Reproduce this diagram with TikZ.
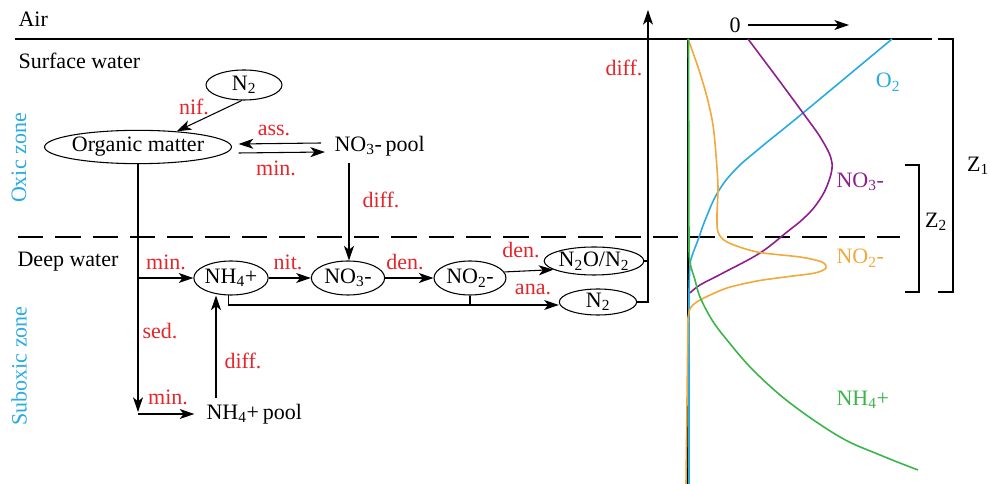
\documentclass[tikz,border=0pt]{standalone}
\usepackage{fontspec}
\setmainfont{Liberation Serif}
\usetikzlibrary{arrows.meta,shapes.geometric,calc}
\definecolor{lblred}{HTML}{E5252A}
\definecolor{zonecyan}{HTML}{29ABE2}
\definecolor{cpurple}{HTML}{8E1F8E}
\definecolor{corange}{HTML}{F2A93B}
\definecolor{cgreen}{HTML}{3AB54A}
\begin{document}
\begin{tikzpicture}[x=0.75pt,y=-0.75pt,
  every node/.style={font=\fontsize{16.5}{19}\selectfont, inner sep=1pt},
  arr/.style={-{Stealth[length=11pt,width=7.5pt,inset=3pt]}, line width=0.8pt},
  ln/.style={line width=0.8pt},
  ell/.style={ellipse, draw, line width=0.8pt, inner sep=0pt},
  rlab/.style={text=lblred},
  zone/.style={text=zonecyan, rotate=90},
  curve/.style={line width=1.2pt}
]
\useasboundingbox (0,0) rectangle (990,484);

% layers
\draw[line width=1.5pt] (15,39) -- (932,39);
\draw[line width=0.8pt, dash pattern=on 19pt off 9pt] (18,237) -- (900,237);
\node[anchor=west] (air) at (17,19) {Air};
\node[anchor=west] (surf) at (17,61) {Surface water};
\node[anchor=west] (deep) at (16,262) {Deep water};
\node[zone] (oxic) at (19,158) {Oxic zone};
\node[zone] (suboxic) at (19,366) {Suboxic zone};

% nodes
\node[ell, minimum width=57pt, minimum height=22.5pt] (n2top) at (244,85) {N\textsubscript{2}};
\node[ell, minimum width=121pt, minimum height=25pt] (om) at (138,147) {Organic matter};
\node[anchor=west] (no3pool) at (333,146) {NO\textsubscript{3}-\,pool};
\node[ell, minimum width=53pt, minimum height=25.5pt] (nh4) at (231,278) {NH\textsubscript{4}+};
\node[ell, minimum width=55pt, minimum height=25.5pt] (no3) at (348,278) {NO\textsubscript{3}-};
\node[ell, minimum width=54pt, minimum height=25.5pt] (no2) at (470,278) {NO\textsubscript{2}-};
\node[ell, minimum width=63pt, minimum height=21pt] (n2o) at (594,261) {N\textsubscript{2}O/N\textsubscript{2}};
\node[ell, minimum width=58pt, minimum height=19.5pt] (n2b) at (598,302) {N\textsubscript{2}};
\node[anchor=west] (nh4pool) at (205,414) {NH\textsubscript{4}+\,pool};

% connectors
\draw[arr] (n2top.262) -- (om.22);
\node[rlab] (lnif) at (194,107) {nif.};
\draw[arr] ([xshift=-9pt,yshift=2.25pt]no3pool.west) -- ([xshift=5pt,yshift=2.25pt]om.east);
\node[rlab] (lass) at (274,130) {ass.};
\draw[arr] ([xshift=5pt,yshift=-4.5pt]om.east) -- ([xshift=-6pt,yshift=-4.5pt]no3pool.west);
\node[rlab] (lmin1) at (276,168) {min.};
\coordinate (poolDrop) at (349,163);
\draw[arr] (poolDrop) -- (poolDrop |- no3.north);
\node[rlab] (ldiff1) at (381,200) {diff.};

\coordinate (corner) at (138,414);
\draw[arr] (om.south) -- ([yshift=1.5pt]corner);
\draw[arr] (corner) -- ([xshift=-8pt]corner -| nh4pool.west);
\node[rlab] (lsed) at (160,331) {sed.};
\node[rlab] (lmin3) at (168,397) {min.};
\coordinate (poolUp) at (216,398);
\draw[arr] (poolUp) -- (poolUp |- nh4.south);
\node[rlab] (ldiff2) at (243,361) {diff.};

\draw[arr] (om.south |- nh4.west) -- (nh4.west);
\node[rlab] (lmin2) at (166,262) {min.};
\draw[arr] (nh4.east) -- (no3.west);
\node[rlab] (lnit) at (288,262) {nit.};
\draw[arr] (no3.east) -- (no2.west);
\node[rlab] (lden1) at (405,262) {den.};
\draw[arr] (no2.10) -- (n2o.192);
\node[rlab] (lden2) at (521,250) {den.};

\draw[arr] (nh4.262) |- ([yshift=-2.25pt]n2b.west);
\draw[ln] (no2.south) -- (no2.south |- 0,305);
\node[rlab] (lana) at (533,289) {ana.};

\coordinate (riseTop) at (648,10);
\draw[arr] (n2b.east) -| (riseTop);
\draw[ln] (n2o.east) -- (n2o.east -| riseTop);
\node[rlab] (ldiff3) at (624,68) {diff.};

% profile plot
\draw[line width=0.8pt] (688,39) -- (688,484);
\node (zero) at (735,25) {0};
\coordinate (axEnd) at (849,25);
\draw[arr] (748,25) -- (axEnd);

\draw[curve, zonecyan] plot[smooth, tension=0.7] coordinates {(892,39) (803,113) (760,148) (735,170) (718,192) (706,218) (698,240) (692,256) (690,266) (689,290)} -- (689,484);
\draw[curve, cpurple] plot[smooth, tension=0.6] coordinates {(748,39) (775,75) (803,113) (822,140) (832,163) (827,186) (816,205) (803,219) (787,232) (760,253) (723,273) (700,285) (690,293)};
\draw[curve, corange] plot[smooth, tension=0.5] coordinates {(688,39) (698,67) (707,97) (713,125) (716,155) (718,187) (717,215) (718,232) (727,242) (757,252) (800,257) (822,262) (826,268) (815,273) (785,277) (757,281) (727,288) (702,299) (691,307) (688,318)} -- (686,484);
\draw[curve, cgreen] (688.5,39) -- (689,250) plot[smooth, tension=0.6] coordinates {(689,250) (690,263) (695,280) (700,297) (712,320) (727,340) (753,370) (790,403) (840,437) (880,455) (918,470)};

\node[text=zonecyan] (lo2) at (888,82) {O\textsubscript{2}};
\node[text=cpurple, anchor=west] (lno3) at (835,182) {NO\textsubscript{3}-};
\node[text=corange, anchor=west] (lno2) at (835,258) {NO\textsubscript{2}-};
\node[text=cgreen, anchor=west] (lnh4) at (835,400) {NH\textsubscript{4}+};

% brackets
\draw[line width=0.8pt] (938,39) -- (953,39) -- (953,292) -- (938,292);
\draw[line width=0.8pt] (905,165) -- (919,165) -- (919,292) -- (905,292);
\node (z1) at (978,166) {Z\textsubscript{1}};
\node (z2) at (936,222) {Z\textsubscript{2}};
\end{tikzpicture}
\end{document}
